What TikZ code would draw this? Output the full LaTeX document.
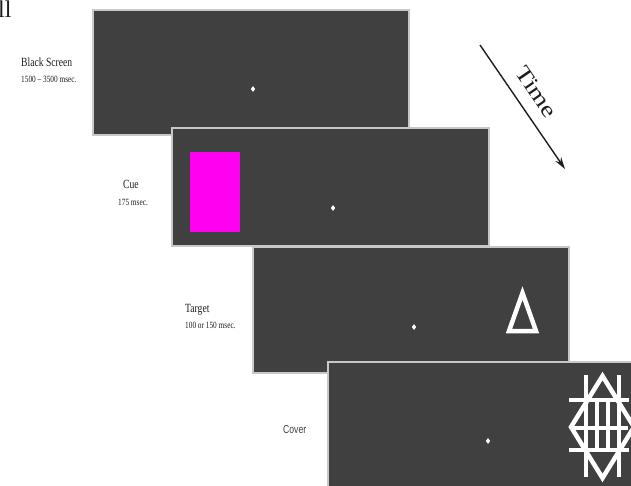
\documentclass[tikz,border=0pt]{standalone}
\usepackage{fontspec}
\setmainfont{Liberation Serif}
\newfontfamily\condfont[FakeStretch=0.77]{Liberation Serif}
\newfontfamily\timefont[FakeStretch=1.25]{Liberation Serif}
\newfontfamily\coverfont[FakeStretch=0.75]{Liberation Sans}
\usetikzlibrary{arrows.meta,shapes.geometric}
\definecolor{scr}{RGB}{64,64,64}
\definecolor{scrborder}{RGB}{200,200,200}
\definecolor{cuecol}{RGB}{255,0,240}
\definecolor{txt}{RGB}{30,30,30}
\begin{document}
\begin{tikzpicture}[x=1pt,y=-1pt,
  panel/.style={draw=scrborder, fill=scr, line width=1.5pt, anchor=north west, inner sep=0pt, outer sep=0pt},
  lbl/.style={anchor=base west, inner sep=0pt, text=txt},
  ttl/.style={lbl, font=\condfont\fontsize{12.5}{14}\selectfont},
  dur/.style={lbl, font=\condfont\fontsize{9.5}{11}\selectfont},
  fixdot/.style={diamond, fill=white, draw=none, inner sep=0pt, minimum width=4.5pt, minimum height=6pt},
  whiteline/.style={draw=white, line width=4.5pt},
  coverline/.style={draw=white, line width=4.5pt, line cap=butt, line join=miter}]
\useasboundingbox (0,0) rectangle (631,485);
\fill[white] (0,0) rectangle (631,485);
\begin{scope}
\clip (0,0) rectangle (631,485);
% cut-off text at top left
\node[lbl, font=\fontsize{24}{24}\selectfont] (cut) at (-2,17) {ll};

% labels
\node[ttl] (l1) at (21,66) {Black Screen};
\node[dur] (d1) at (21,82) {1500 – 3500 msec.};
\node[ttl] (l2) at (123,188) {Cue};
\node[dur] (d2) at (118,205) {175 msec.};
\node[ttl] (l3) at (185,312) {Target};
\node[dur] (d3) at (185,328) {100 or 150 msec.};
\node[lbl, text=black!75, font=\coverfont\fontsize{11.5}{13}\selectfont] (l4) at (283,433) {Cover};

% panel 1: black screen
\node[panel, minimum width=316pt, minimum height=125pt] (p1) at (93,10) {};
\node[fixdot] (f1) at (253,89) {};

% panel 2: cue
\node[panel, minimum width=317pt, minimum height=118pt] (p2) at (172,128) {};
\node[fill=cuecol, draw=none, anchor=north west, inner sep=0pt, minimum width=50pt, minimum height=80pt] (cue) at (190,152) {};
\node[fixdot] (f2) at (333,208) {};

% panel 3: target
\node[panel, minimum width=316pt, minimum height=126pt] (p3) at (253,247) {};
\node[fixdot] (f3) at (414,327) {};
\draw[whiteline, line join=miter] (509,331) -- (522.5,293) -- (536,331) -- cycle;

% panel 4: cover
\node[panel, minimum width=330pt, minimum height=140pt] (p4) at (328,362) {};
\node[fixdot] (f4) at (488,441) {};
\draw[coverline] (586,375) -- (586,477);
\draw[coverline] (619,375) -- (619,477);
\draw[coverline] (597,400) -- (597,450);
\draw[coverline] (608,400) -- (608,450);
\draw[coverline] (569,400) -- (629,400);
\draw[coverline] (574,428) -- (628,428);
\draw[coverline] (569,450) -- (629,450);
\draw[coverline] (602.5,376) -- (571,427) -- (602.5,478) -- (634,427) -- cycle;

% time arrow
\coordinate (ts) at (480,45);
\coordinate (te) at (565,169);
\draw[draw=txt, line width=1.4pt, -{Stealth[length=12pt,width=7pt]}] (ts) -- node[sloped, pos=0.47, above=12pt, inner sep=0pt, text=txt, font=\timefont\fontsize{22}{22}\selectfont] (tl) {Time} (te);
\end{scope}
\end{tikzpicture}
\end{document}
